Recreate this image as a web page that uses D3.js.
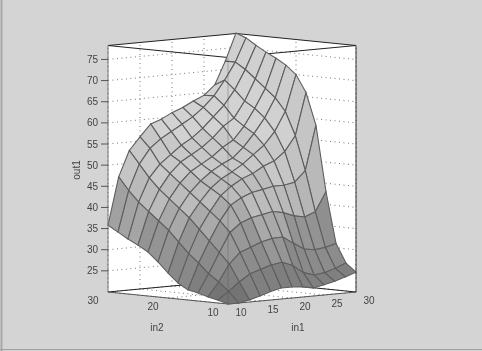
<!DOCTYPE html>
<html><head><meta charset="utf-8">
<script src="https://cdn.jsdelivr.net/npm/d3@7"></script>
<style>html,body{margin:0;padding:0;background:#d4d4d4}svg{display:block;filter:blur(0.4px)}text{font-family:"Liberation Sans",Arial,sans-serif;font-size:10px;fill:#444}</style>
</head><body><div id="c"></div>
<script>
const in1Values=[10,11.67,13.33,15,16.67,18.33,20,21.67,23.33,25,26.67,28.33,30];
const in2Values=[10,11.67,13.33,15,16.67,18.33,20,21.67,23.33,25,26.67,28.33,30];
const out1Row00=[20,20,20.5,21.2,22,22.6,22.6,22.4,21.9,22.4,23,23.8,24.7];
const out1Row01=[20.7,22.5,24.5,26.2,27,27.8,28.2,27.2,25.3,24.5,24.8,25.6,26.6];
const out1Row02=[21.2,24.5,28.5,31,32,33,33.6,33.7,32,30.4,30,30.3,31];
const out1Row03=[21.9,26.2,31,35.5,37.5,38.5,39,39.5,39,38,37.5,38.5,43];
const out1Row04=[22.4,28.5,33.5,38,41.5,43,44,44.5,45,45,45.5,48,58.5];
const out1Row05=[23.8,30.5,36,40,43.5,45.5,47,48,49.5,50.5,52.5,56,66];
const out1Row06=[25.9,33,38.5,42,45,47,48.4,50,52,54,57,61.5,70];
const out1Row07=[28.3,35.5,40.5,44,46.5,48.5,50,51.2,53.5,56.5,60,64.5,72];
const out1Row08=[30.4,37.5,42.5,46,48.5,50,51.5,53.5,55,58,62,66.5,73.4];
const out1Row09=[31.8,39.5,44.5,48,50.5,52,53.5,55.5,58,59.7,63.5,68.5,74.6];
const out1Row10=[33,41.5,47,50,52,54,55.5,57.5,60,62.5,65.9,70.5,76];
const out1Row11=[34.4,44,50,53.5,55.5,57,58.5,60,62,64.5,68,72,77.5];
const out1Row12=[35.8,47,53,56,58.8,59.7,61,62,63.3,64.4,66.6,72,78.4];
const out1=[out1Row00,out1Row01,out1Row02,out1Row03,out1Row04,out1Row05,out1Row06,out1Row07,out1Row08,out1Row09,out1Row10,out1Row11,out1Row12];
const zTicks=[25,30,35,40,45,50,55,60,65,70,75];
const in1Ticks=[10,15,20,25,30];
const in2Ticks=[10,20,30];
const levels=[23,26,30,36,41,47,56];
const grayLevels=[116,128,140,152,170,188,200,210];

const W=482,H=351;
const color=d3.scaleThreshold().domain(levels).range(grayLevels);
const ax=d3.scaleLinear().domain([10,30]).range([0,128]);
const bx=d3.scaleLinear().domain([10,30]).range([0,-120]);
const ay=d3.scaleLinear().domain([10,30]).range([0,-12]);
const by=d3.scaleLinear().domain([10,30]).range([0,-12]);
const zs=d3.scaleLinear().domain([20,78.3]).range([0,-246.5]);
const X=(a,b)=>228+ax(a)+bx(b);
const Y=(a,b,z)=>304+ay(a)+by(b)+zs(z);
const Z0=20,Z1=78.3;
const line=d3.line();
const svg=d3.select("#c").append("svg").attr("width",W).attr("height",H);
svg.append("rect").attr("width",W).attr("height",H).attr("fill","#d4d4d4");
svg.append("line").attr("x1",1.5).attr("x2",1.5).attr("y1",0).attr("y2",H).attr("stroke","#a8a8a8").attr("stroke-width",2);
svg.append("line").attr("x1",0).attr("x2",W).attr("y1",349.5).attr("y2",349.5).attr("stroke","#a0a0a0");
const P=(a,b,z)=>[X(a,b),Y(a,b,z)];
const walls=[
 [P(10,30,Z0),P(30,30,Z0),P(30,30,Z1),P(10,30,Z1)],
 [P(30,10,Z0),P(30,30,Z0),P(30,30,Z1),P(30,10,Z1)],
 [P(10,10,Z0),P(30,10,Z0),P(30,30,Z0),P(10,30,Z0)]
];
svg.selectAll(".wall").data(walls).join("path").attr("fill","#fff").attr("d",d=>line(d)+"Z");
const grid=svg.append("g").attr("fill","none").attr("stroke","#777").attr("stroke-width",1).attr("stroke-dasharray","1 3.5");
const seg=(p,q)=>grid.append("path").attr("d",line([p,q]));
zTicks.forEach(z=>{seg(P(10,30,z),P(30,30,z));seg(P(30,30,z),P(30,10,z));});
in1Ticks.forEach(a=>{seg(P(a,30,Z0),P(a,30,Z1));seg(P(a,10,Z0),P(a,30,Z0));});
in2Ticks.forEach(b=>{seg(P(30,b,Z0),P(30,b,Z1));seg(P(10,b,Z0),P(30,b,Z0));});
const box=svg.append("g").attr("fill","none").attr("stroke","#222").attr("stroke-width",1);
box.append("path").attr("d",line([P(10,30,Z1),P(30,30,Z1),P(30,10,Z1)]));
box.append("path").attr("d",line([P(10,30,Z0),P(30,30,Z0),P(30,10,Z0)]));
const cells=[];
for(let i=0;i<12;i++)for(let j=0;j<12;j++){
  const a=out1[j][i],b=out1[j][i+1],c=out1[j+1][i],d=out1[j+1][i+1];
  const slope=Math.hypot((b+d-a-c)/2,(c+d-a-b)/2);
  const g=Math.max(80,color((a+b+c+d)/4)-1.6*Math.max(0,slope-5));
  cells.push({i,j,k:i+j,g});
}
cells.sort((p,q)=>q.k-p.k);
svg.append("g").selectAll("path").data(cells).join("path")
 .attr("fill",d=>d3.rgb(d.g,d.g,d.g)).attr("stroke","#5e5e5e").attr("stroke-width",1.1)
 .attr("d",d=>{const a0=in1Values[d.i],a1=in1Values[d.i+1],b0=in2Values[d.j],b1=in2Values[d.j+1];
   return line([P(a0,b0,out1[d.j][d.i]),P(a1,b0,out1[d.j][d.i+1]),P(a1,b1,out1[d.j+1][d.i+1]),P(a0,b1,out1[d.j+1][d.i])])+"Z";});
box.append("path").attr("d",line([P(10,30,Z1),P(10,10,Z1),P(30,10,Z1)]));
box.append("path").attr("d",line([P(10,30,Z0),P(10,10,Z0),P(30,10,Z0)])).attr("stroke","#555");
svg.append("line").attr("x1",X(10,10)).attr("x2",X(10,10)).attr("y1",Y(10,10,Z0)).attr("y2",Y(10,10,Z1)).attr("stroke","#555").attr("stroke-opacity",0.4);
svg.append("line").attr("x1",X(10,30)).attr("x2",X(10,30)).attr("y1",Y(10,30,Z0)).attr("y2",Y(10,30,Z1)).attr("stroke","#777");
svg.append("line").attr("x1",X(30,10)).attr("x2",X(30,10)).attr("y1",Y(30,10,Z0)).attr("y2",Y(30,10,Z1)).attr("stroke","#333");
zTicks.forEach(z=>{
  const [x,y]=P(10,30,z);
  svg.append("line").attr("x1",x-7).attr("x2",x).attr("y1",y).attr("y2",y).attr("stroke","#555");
  svg.append("text").attr("x",x-10).attr("y",y+3.5).attr("text-anchor","end").text(z);
});
in1Ticks.forEach(a=>{const [x,y]=P(a,10,Z0);
  svg.append("text").attr("x",x+13).attr("y",y+12).attr("text-anchor","middle").text(a);});
in2Ticks.forEach(b=>{const [x,y]=P(10,b,Z0);
  svg.append("text").attr("x",x-15).attr("y",y+12).attr("text-anchor","middle").text(b);});
svg.append("text").attr("x",157).attr("y",331).attr("text-anchor","middle").text("in2");
svg.append("text").attr("x",298).attr("y",331).attr("text-anchor","middle").text("in1");
svg.append("text").attr("transform","translate(80,170) rotate(-90)").attr("text-anchor","middle").text("out1");
</script></body></html>
